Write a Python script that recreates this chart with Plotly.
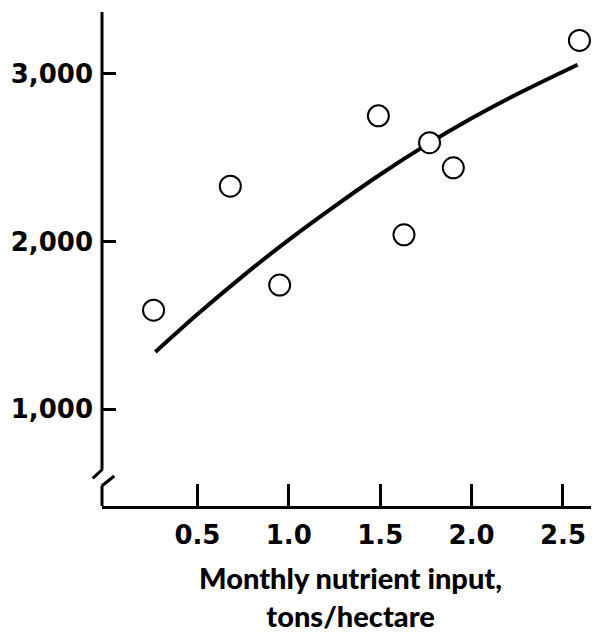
import plotly.graph_objects as go

nutrient_x = [0.26, 0.68, 0.95, 1.49, 1.63, 1.77, 1.90, 2.59]
yield_y = [1590, 2330, 1740, 2750, 2040, 2590, 2440, 3200]

# Fitted curve, points
curve_x = [0.27, 0.5, 0.75, 1.0, 1.25, 1.5, 1.75, 2.0, 2.25, 2.58]
curve_y = [1340, 1565, 1795, 2010, 2210, 2400, 2575, 2735, 2880, 3055]

x_tickvals = [0.5, 1.0, 1.5, 2.0, 2.5]
x_ticktext = ["0.5", "1.0", "1.5", "2.0", "2.5"]
y_tickvals = [1000, 2000, 3000]
y_ticktext = ["1,000", "2,000", "3,000"]

x_title = "Monthly nutrient input,<br>tons/hectare"

TICK_FONT = dict(family="DejaVu Sans", size=26, weight="bold", color="black")
TITLE_FONT = dict(family="Lato", size=29, weight=900, color="black")

fig = go.Figure()
fig.add_trace(go.Scatter(
    x=curve_x, y=curve_y, mode="lines",
    line=dict(color="black", width=4, shape="spline"),
    hoverinfo="skip", showlegend=False,
))
fig.add_trace(go.Scatter(
    x=nutrient_x, y=yield_y, mode="markers",
    marker=dict(symbol="circle", size=21, color="white",
                line=dict(color="black", width=2)),
    showlegend=False, cliponaxis=False,
))

# page body has an 8px margin, so the figure is 8px smaller and shifted
fig.update_layout(
    width=591, height=626,
    margin=dict(l=94, r=0, t=4, b=128),
    paper_bgcolor="white", plot_bgcolor="white",
    xaxis=dict(
        range=[-0.022, 2.697], showgrid=False, zeroline=False,
        showline=True, linecolor="black", linewidth=3,
        ticks="inside", ticklen=22, tickwidth=3, tickcolor="black",
        tickvals=x_tickvals, ticktext=x_ticktext, tickfont=TICK_FONT,
        ticklabelstandoff=4,
    ),
    yaxis=dict(
        range=[421, 3370], showgrid=False, zeroline=False,
        showline=False,
        ticks="inside", ticklen=14, tickwidth=3, tickcolor="black",
        tickvals=y_tickvals, ticktext=y_ticktext, tickfont=TICK_FONT,
        ticklabelstandoff=8,
    ),
    annotations=[dict(
        text=x_title, xref="paper", yref="paper", x=0.501, y=-0.105,
        xanchor="center", yanchor="top", showarrow=False, font=TITLE_FONT,
    )],
)

axis_line = dict(color="black", width=3)
# y-axis with break
fig.add_shape(type="line", xref="paper", yref="paper", x0=0, x1=0, y0=0.0749, y1=1.0, line=axis_line)
fig.add_shape(type="line", xref="paper", yref="paper", x0=-0.0187, x1=0.0014, y0=0.0561, y1=0.0749, line=axis_line)
fig.add_shape(type="line", xref="paper", yref="paper", x0=-0.0006, x1=0.0247, y0=0.0405, y1=0.0607, line=axis_line)
fig.add_shape(type="line", xref="paper", yref="paper", x0=0, x1=0, y0=0.0, y1=0.0405, line=axis_line)

fig.write_html("out.html")
